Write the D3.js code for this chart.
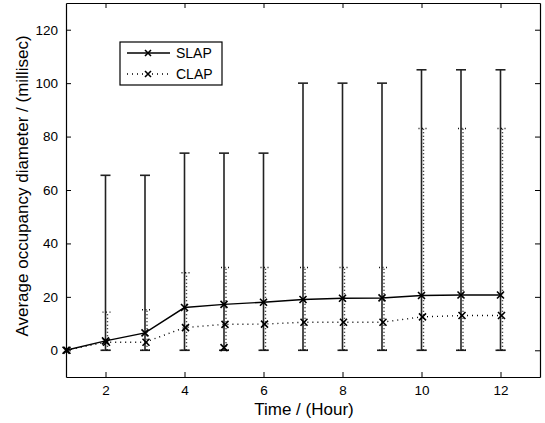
<!DOCTYPE html>
<meta charset="utf-8">
<style>
body { margin: 0; background: #fff; }
text { font-family: "Liberation Sans", Arial, sans-serif; fill: #000; }
.axis path, .axis line { stroke: #000; }
</style>
<svg width="545" height="423"></svg>
<script src="https://cdnjs.cloudflare.com/ajax/libs/d3/7.8.5/d3.min.js"></script>
<script>

var hours = [1, 2, 3, 4, 5, 6, 7, 8, 9, 10, 11, 12];
var slapMean = [0, 3.5, 6.5, 16, 17.2, 18, 19, 19.5, 19.6, 20.5, 20.7, 20.7];
var slapUpper = [0, 65.5, 65.5, 73.8, 73.8, 73.8, 100, 100, 100, 105, 105, 105];
var clapMean = [0, 3, 3, 8.5, 9.7, 9.8, 10.5, 10.5, 10.5, 12.5, 13, 13];
var clapUpper = [0, 14.3, 15.2, 29, 31, 31, 31, 31, 31, 83, 83, 83];
var lowerBound = [0, 0, 0, 0, 0, 0, 0, 0, 0, 0, 0, 0];
var strayX = [5];
var strayY = [1];
var xTicks = [2, 4, 6, 8, 10, 12];
var yTicks = [0, 20, 40, 60, 80, 100, 120];
var seriesNames = ["SLAP", "CLAP"];

var svg = d3.select("svg"),
    margin = {top: 3, right: 5, bottom: 46, left: 66},
    width = +svg.attr("width") - margin.left - margin.right,
    height = +svg.attr("height") - margin.top - margin.bottom;

var x = d3.scaleLinear().domain([1, 13]).range([0, width]),
    y = d3.scaleLinear().domain([-10, 130]).range([height, 0]);

var g = svg.append("g")
    .attr("transform", "translate(" + margin.left + "," + margin.top + ")");

// axes, ticks pointing inward like matlab
g.append("g")
    .attr("class", "axis")
    .attr("transform", "translate(0," + height + ")")
    .call(d3.axisBottom(x).tickValues(xTicks).tickSizeInner(-5).tickSizeOuter(0).tickPadding(8))
    .call(function(a) { a.selectAll("text").style("font-size", "13.5px"); });

g.append("g")
    .attr("class", "axis")
    .call(d3.axisLeft(y).tickValues(yTicks).tickSizeInner(-5).tickSizeOuter(0).tickPadding(8))
    .call(function(a) { a.selectAll("text").style("font-size", "13.5px"); });

g.append("g")
    .attr("class", "axis")
    .call(d3.axisTop(x).tickValues(xTicks).tickSizeInner(-5).tickSizeOuter(0).tickFormat(""));

g.append("g")
    .attr("class", "axis")
    .attr("transform", "translate(" + width + ",0)")
    .call(d3.axisRight(y).tickValues(yTicks).tickSizeInner(-5).tickSizeOuter(0).tickFormat(""));

g.selectAll(".axis path").attr("stroke-width", 1.2);

var slap = hours.map(function(h, i) { return {x: h, m: slapMean[i], lo: lowerBound[i], hi: slapUpper[i]}; });
var clap = hours.map(function(h, i) { return {x: h, m: clapMean[i], lo: lowerBound[i], hi: clapUpper[i]}; });

function errorBars(data, dx, dash, color, sw) {
  var eb = g.append("g");
  var capW = 5;
  data.filter(function(d) { return d.hi > d.lo; }).forEach(function(d) {
    var cx = x(d.x) + dx;
    eb.append("line")
        .attr("x1", cx).attr("x2", cx)
        .attr("y1", y(d.lo)).attr("y2", y(d.hi))
        .attr("stroke", color).attr("stroke-width", sw)
        .attr("stroke-dasharray", dash);
    [d.lo, d.hi].forEach(function(v) {
      eb.append("line")
          .attr("x1", cx - capW).attr("x2", cx + capW)
          .attr("y1", y(v)).attr("y2", y(v))
          .attr("stroke", color).attr("stroke-width", sw)
          .attr("stroke-dasharray", dash);
    });
  });
}

errorBars(slap, 0, null, "#222", 1.6);
errorBars(clap, 2, "1,2.5", "#111", 1.4);

var line = d3.line()
    .x(function(d) { return x(d.x); })
    .y(function(d) { return y(d.m); });

g.append("path").datum(slap)
    .attr("fill", "none").attr("stroke", "#000").attr("stroke-width", 1.4)
    .attr("d", line);

g.append("path").datum(clap)
    .attr("fill", "none").attr("stroke", "#000").attr("stroke-width", 1.4)
    .attr("stroke-dasharray", "1,4")
    .attr("d", line);

function cross(sel, px, py, r) {
  sel.append("path")
      .attr("d", "M" + (px - r) + "," + (py - r) + "L" + (px + r) + "," + (py + r) +
                 "M" + (px - r) + "," + (py + r) + "L" + (px + r) + "," + (py - r))
      .attr("stroke", "#000").attr("stroke-width", 1.6).attr("fill", "none");
}

var mk = g.append("g");
slap.forEach(function(d) { cross(mk, x(d.x), y(d.m), 3.5); });
clap.forEach(function(d) { cross(mk, x(d.x) + 1, y(d.m), 3.5); });
strayX.forEach(function(v, i) { cross(mk, x(v), y(strayY[i]), 3.5); });

// legend
var lg = svg.append("g").attr("transform", "translate(120,42)");
lg.append("rect")
    .attr("width", 102).attr("height", 43)
    .attr("fill", "#fff").attr("stroke", "#000").attr("stroke-width", 1.2);
seriesNames.forEach(function(name, i) {
  var ly = 11 + i * 21;
  var ln = lg.append("line")
      .attr("x1", 7).attr("x2", 50).attr("y1", ly).attr("y2", ly)
      .attr("stroke", "#000").attr("stroke-width", 1.4);
  if (i === 1) ln.attr("stroke-dasharray", "1,4");
  cross(lg, 28, ly, 3);
  lg.append("text").attr("x", 56).attr("y", ly).attr("dy", "0.35em")
      .style("font-size", "14px").text(name);
});

// axis labels
svg.append("text")
    .attr("x", 304).attr("y", 415)
    .attr("text-anchor", "middle").style("font-size", "17px")
    .text("Time / (Hour)");

svg.append("text")
    .attr("transform", "translate(28," + (margin.top + height / 2 - 4) + ") rotate(-90)")
    .attr("text-anchor", "middle").style("font-size", "17px")
    .text("Average occupancy diameter / (millisec)");

</script>
